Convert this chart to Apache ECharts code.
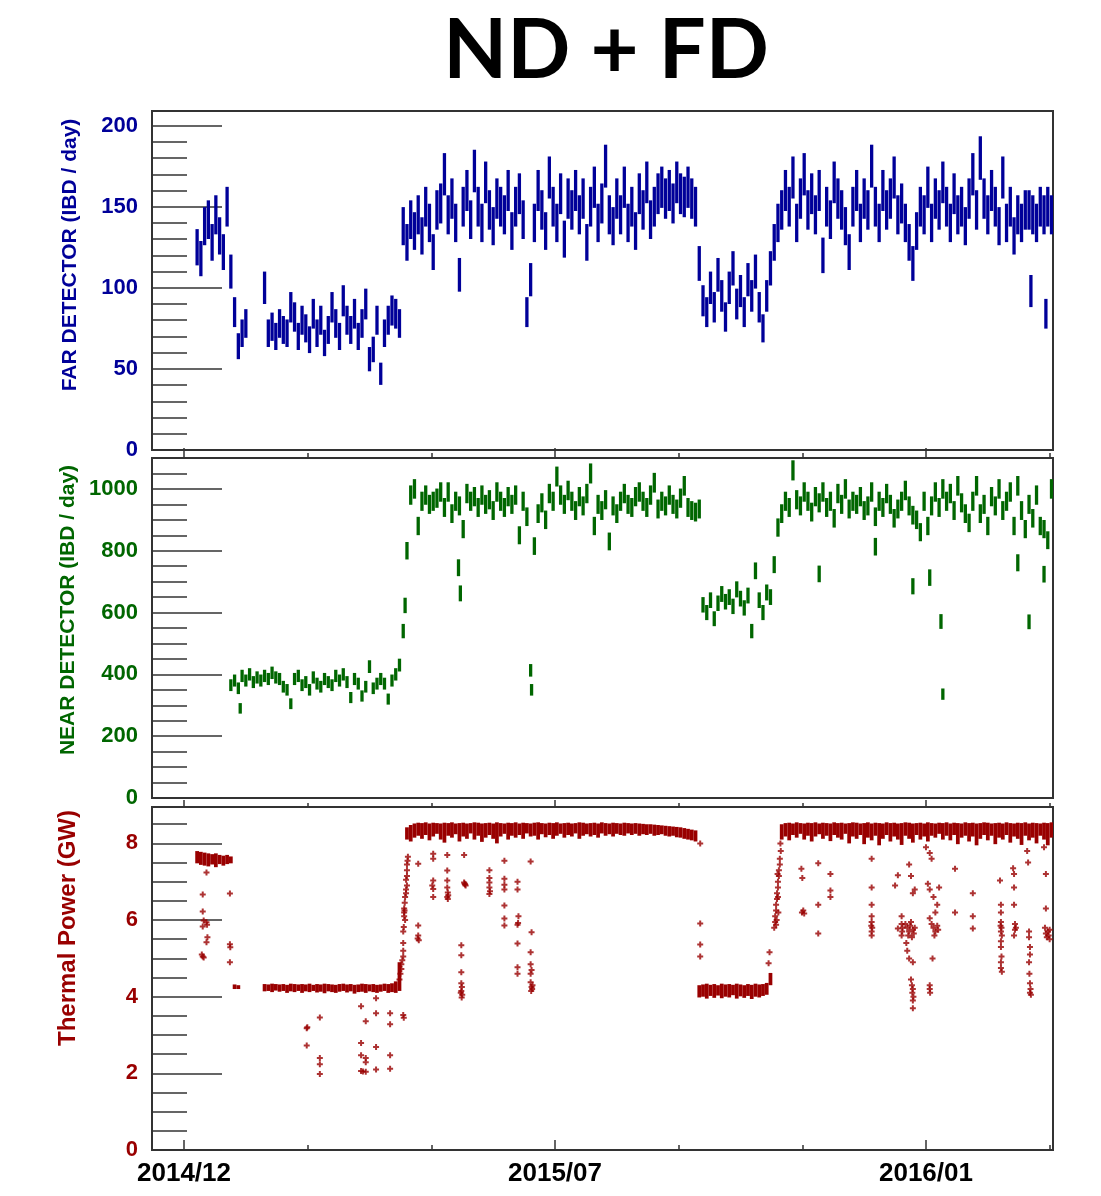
<!DOCTYPE html>
<html><head><meta charset="utf-8">
<script src="https://cdn.jsdelivr.net/npm/echarts@6/dist/echarts.min.js"></script>
<style>html,body{margin:0;padding:0;background:#fff}#chart{width:1101px;height:1196px}</style>
</head><body><div id="chart"></div>
<script>
// ---- axes (x in days counted from the 2014/12 tick) ----
const xTickDays = [0, 198, 396];
const xTickLabels = ['2014/12', '2015/07', '2016/01'];
const xMinorDays = [66, 132, 264, 330, 462];
const fdTicks = [0, 50, 100, 150, 200];
const fdMinor = [10,20,30,40,60,70,80,90,110,120,130,140,160,170,180,190];
const ndTicks = [0, 200, 400, 600, 800, 1000];
const ndMinor = [50,100,150,250,300,350,450,500,550,650,700,750,850,900,950,1050];
const thTicks = [0, 2, 4, 6, 8];
const thMinor = [0.5,1,1.5,2.5,3,3.5,4.5,5,5.5,6.5,7,7.5,8.5];

// ---- data: one sample every 2 days starting at day 7 ----
const firstDay = 7, dayStep = 2;

const fdValues = [
125,118,138,142,128,145,132,122,150,110,85,64,72,78,
null,null,null,null,
100,72,76,70,78,74,72,88,82,70,80,75,68,84,72,80,66,74,88,78,70,92,80,74,84,70,78,90,56,62,80,47,72,80,86,84,78,
138,128,142,135,145,132,150,140,122,148,
152,170,145,155,140,108,150,160,142,172,
150,140,165,148,138,155,150,145,160,135,
150,158,142,85,105,140,160,148,135,168,
150,140,158,130,155,148,160,145,155,128,
150,162,140,152,175,145,138,155,145,162,
140,150,135,158,148,165,142,150,158,162,
155,160,152,165,158,156,162,155,150,
115,92,85,100,88,108,95,82,100,112,
90,98,85,105,95,110,88,75,95,112,
128,140,148,160,150,168,140,155,170,148,
158,145,160,120,150,142,165,155,148,138,
122,150,160,140,155,148,175,150,140,160,
148,155,168,145,152,140,128,115,135,150,
145,162,140,155,148,165,150,140,158,145,
150,138,155,170,148,180,155,145,160,150,
138,168,140,150,132,145,140,148,148,145,
140,150,145,150,145
];
const fdOutliers = [[452, 98], [460, 84]];

const ndValues = [
null,null,null,null,null,null,null,null,null,
365,
380,355,395,380,400,375,390,380,395,385,
405,390,385,360,350,305,385,395,365,375,
350,390,370,360,385,375,365,395,380,400,
375,325,385,370,330,360,425,355,370,385,
370,320,380,400,430,
540,800,980,1000,880,960,980,950,960,970,
990,940,990,920,960,945,870,985,960,975,
940,980,950,965,930,990,960,940,975,950,
980,850,960,910,413,815,920,955,900,985,
960,1040,980,950,995,960,930,975,945,985,
1050,880,950,930,965,830,945,920,960,985,
950,940,975,990,960,940,980,1020,935,960,
945,980,950,935,970,1010,940,930,925,
935,625,600,640,580,630,660,635,650,620,
675,645,615,655,540,735,640,600,665,650,
755,875,920,960,940,1060,965,945,990,960,
925,975,955,990,940,960,905,985,950,1000,
935,960,950,975,930,945,990,910,960,940,
985,950,905,935,960,995,945,915,900,860,
960,880,945,990,940,1000,960,985,930,1010,
955,920,890,960,1010,920,950,880,975,945,
1000,930,960,990,880,1010,930,870,950,905,
980,880,870,834,1000
];
const ndOutliers = [[30,290],[118,623],[146.5,745],[147.5,662],[185.5,350],[339,725],[369,813],[389,685],[398,713],[404,571],[405,336],[445,761],[451,570],[459,724]];

const thermHigh = [
7.8,7.78,7.76,7.74,7.72,7.74,7.7,7.68,7.7,7.66,
4.32,4.3,
null,null,null,null,null,null,
4.33,4.32,4.34,4.33,4.32,4.33,4.31,4.34,4.33,4.32,4.33,4.32,4.34,4.31,4.33,4.32,4.34,4.33,4.32,4.31,
4.33,4.34,4.32,4.33,4.31,4.32,4.34,4.33,4.32,4.33,4.31,4.32,4.34,4.33,4.35,4.4,4.9,
null,
8.42,8.48,8.52,8.54,8.53,8.55,8.52,8.54,8.53,8.52,8.54,8.53,8.55,8.52,8.53,8.54,8.52,8.53,8.55,8.54,
8.52,8.53,8.54,8.52,8.55,8.53,8.52,8.54,8.53,8.55,8.52,8.54,8.53,8.52,8.54,8.55,8.53,8.52,8.54,8.53,
8.55,8.52,8.53,8.54,8.52,8.53,8.55,8.54,8.52,8.53,8.54,8.52,8.55,8.53,8.52,8.54,8.53,8.52,8.54,8.53,
8.52,8.53,8.52,8.51,8.5,8.5,8.49,8.48,8.47,8.46,8.45,8.44,8.43,8.42,8.4,8.38,8.36,8.34,
4.3,4.32,4.34,4.31,4.33,4.3,4.34,4.32,4.33,4.31,4.34,4.32,4.3,4.33,4.31,4.34,4.32,4.33,4.36,4.62,
null,null,
8.5,8.53,8.54,8.52,8.55,8.53,8.52,8.54,8.53,8.55,8.52,8.54,8.53,8.52,8.55,8.53,8.54,8.52,8.53,8.55,
8.54,8.52,8.53,8.55,8.52,8.54,8.53,8.52,8.55,8.53,8.54,8.52,8.53,8.55,8.54,8.52,8.53,8.54,8.52,8.55,
8.53,8.52,8.54,8.53,8.55,8.52,8.54,8.53,8.52,8.55,8.53,8.54,8.52,8.53,8.55,8.54,8.52,8.53,8.54,8.52,
8.55,8.53,8.52,8.54,8.53,8.55,8.52,8.54,8.53,8.52,8.54,8.53,8.55
];
const thermLow = [
7.48,7.44,7.42,7.4,7.45,7.38,7.46,7.42,7.46,7.48,
4.2,4.2,
null,null,null,null,null,null,
4.14,4.15,4.12,4.16,4.13,4.15,4.1,4.14,4.12,4.15,4.1,4.14,4.12,4.15,4.11,4.13,4.09,4.14,4.12,4.1,
4.13,4.15,4.11,4.14,4.08,4.12,4.13,4.1,4.14,4.12,4.1,4.13,4.15,4.1,4.12,4.1,4.15,
null,
8.1,8.05,8.15,8.2,8.12,8.22,8.08,8.18,8.25,8.1,8.02,8.2,8.15,8.24,8.05,8.18,8.12,8.26,8.1,8.2,
8.04,8.15,8.22,8.12,8.0,8.18,8.25,8.1,8.2,8.15,8.22,8.12,8.26,8.18,8.2,8.1,8.24,8.16,8.22,8.12,
8.2,8.25,8.15,8.22,8.18,8.26,8.12,8.2,8.24,8.18,8.22,8.15,8.26,8.2,8.24,8.18,8.25,8.22,8.2,8.26,
8.22,8.25,8.2,8.24,8.22,8.25,8.2,8.22,8.24,8.2,8.18,8.2,8.16,8.15,8.12,8.1,8.08,8.05,
3.98,4.0,3.95,4.02,3.97,4.03,3.96,4.0,3.98,4.04,3.95,4.01,3.97,4.02,3.94,4.0,3.98,4.02,4.05,4.3,
null,null,
8.1,8.18,8.08,8.22,8.15,8.25,8.1,8.2,8.05,8.18,8.24,8.12,8.2,8.06,8.22,8.15,8.1,8.25,8.0,8.18,
8.12,8.22,7.98,8.15,8.08,8.2,7.95,8.12,8.22,8.05,8.18,8.1,7.96,8.2,8.12,8.02,8.22,8.1,8.18,8.05,
8.2,8.15,8.25,8.1,8.2,8.08,8.22,7.98,8.15,8.2,8.05,8.18,7.95,8.12,8.22,8.08,8.2,7.98,8.15,8.1,
8.22,8.02,8.18,8.12,7.96,8.2,8.08,8.15,8.0,8.2,8.1,7.95,8.15
];

const thermDots = [
[10,6.67],[10,6.22],[10.5,5.99],[10,5.83],[9.5,5.1],[10,5.05],[10.5,5.02],[12,7.24],[12,5.94],[12.3,5.88],[12.5,5.55],[12,5.42],
[24.5,6.69],[24.5,5.37],[24.7,5.29],[24.5,4.9],
[65.5,3.18],[65.8,3.2],[65.5,2.73],[72.5,3.46],[72.5,2.4],[72.5,2.24],[72.5,1.98],
[94.5,3.75],[94.5,2.79],[94.5,2.47],[94.5,2.06],[97,3.36],[97,2.4],[97,2.29],[97,2.04],[95.5,2.05],
[102.5,3.96],[102.5,3.57],[102.5,2.69],[102.5,2.1],[110,3.57],[110,3.28],[110,2.47],[110,2.12],[117,3.52],[117.3,3.45],
[115,4.45],[115.5,4.6],[116,4.72],[116,4.85],[116.5,4.95],[117,5.05],[117,5.2],[117,5.4],[117,5.7],[117.3,5.82],
[117.5,6.1],[117.5,6.2],[117.5,6.3],[117.7,6.25],[118,6.0],[117.8,6.45],[118,6.6],[118.5,6.7],[118.5,6.8],[119,6.9],
[118.5,7.05],[119,7.15],[119,7.3],[119,7.45],[119.3,7.55],[119.5,7.65],
[125,7.47],[125,5.86],[125,5.6],[125.3,5.47],[124.7,5.52],
[133,7.73],[133,7.6],[133,7.03],[133,6.81],[133,6.6],[132.5,6.9],
[140.5,7.7],[140.5,7.29],[140.5,7.03],[140.5,6.85],[140.8,6.72],[140.5,6.6],[140.8,6.55],[141,6.65],
[148,5.34],[148,5.08],[148,4.64],[148,4.35],[148.3,4.25],[148,4.15],[148.5,4.05],[148.2,3.98],[147.7,4.1],
[149.5,7.7],[149.5,6.98],[150,6.93],[150.3,6.9],[149.8,6.95],
[163,7.3],[163,7.1],[163,6.98],[163,6.85],[163.3,6.75],[163,6.68],
[171,7.55],[171,7.08],[171,6.92],[171,6.8],[171,6.38],[171,6.04],[171,5.86],
[178,7.0],[178,6.8],[178.5,6.1],[178,5.88],[178.3,5.92],[178,5.39],[178,4.77],[178,4.6],
[185,7.53],[185.5,5.68],[185,5.16],[185,4.85],[185.5,4.7],[185,4.6],[185,4.38],[185.5,4.25],[185.3,4.15],[185.8,4.2],[186,4.3],
[275.5,8.0],[275.5,5.91],[275.5,5.36],[275.5,5.05],
[312,4.87],[312.5,5.16],
[315,5.8],[315.5,5.95],[315.5,6.1],[316,6.25],[316,6.4],[316.5,6.55],[316.5,6.7],[317,6.85],[317,7.0],[317.5,7.15],
[317.5,7.3],[318,7.45],[318,7.6],[316.3,6.0],[317.2,6.2],[316.8,7.2],[318.3,8.0],[318.5,7.8],[316,5.88],[317,6.6],
[329.5,7.34],[330,7.1],[330.5,6.25],[331,6.17],[329.8,6.2],
[338.5,7.48],[338.5,6.4],[338.5,5.65],
[345,7.2],[345,6.77],[345,6.6],
[367,7.6],[367,6.85],[367,6.4],[367,6.1],[367,5.95],[367.3,5.8],[367,5.7],[366.8,5.85],[367,5.6],
[379.5,6.9],[381,7.17],[381,5.78],[383,6.1],[383,5.9],[383.5,5.8],[383.3,5.7],[383,5.6],
[385,5.9],[386,5.8],[387,5.7],[388,5.95],[389,5.75],[386.5,5.6],[388.5,5.55],[387.5,5.85],[389.5,5.65],[390,5.8],
[385.5,5.4],[386,5.2],[387,5.0],[389,4.9],[388,4.45],[388.5,4.3],[389,4.2],[388.7,4.1],[389.3,4.0],[389,3.9],[389,3.7],
[387,7.45],[388,7.15],[390,6.8],[389,6.7],
[396,7.9],[398,7.75],[399,7.6],[397,6.95],[398,6.8],[400,6.6],[401,6.2],[398,6.05],[399,5.9],[400,5.8],
[401,5.7],[402,5.85],[400.5,5.6],[402.5,5.75],[399.5,5.0],[398,4.3],[398.2,4.1],[398,4.2],[402,6.4],[403,6.85],
[411.5,7.34],[411.5,6.2],
[421,6.7],[421,6.1],[421,5.78],
[435.5,7.03],[436,6.4],[436,6.2],[436,5.95],[436.3,5.8],[436,5.7],[436.5,5.6],[436,5.45],[436,5.3],[436.3,5.05],
[436,4.9],[436,4.75],[436.5,4.65],[435.8,5.85],
[442.5,7.35],[443,7.2],[443,6.85],[443,6.4],[443.5,5.9],[443.5,5.75],[443,5.6],[444,5.8],
[450,7.8],[450.5,7.5],[451,5.7],[451,5.55],[451.5,5.3],[451.5,5.1],[451,4.9],[451.5,4.35],[451.8,4.2],[451.5,4.1],[452,4.05],[451.2,4.6],
[459,7.9],[460,7.2],[460,6.3],[459.5,5.8],[460,5.65],[460.5,5.55],[461,5.7],[461.5,5.6],[462,5.75],[462,5.5]
];

// ---- styling ----
const BLUE = '#000099', GREEN = '#006600', RED = '#990000', TICK = '#333';
const FONT = '"Liberation Sans", Arial, sans-serif';
const xMin = -17.08, xMax = 463.79;

const toDay = i => firstDay + dayStep * i;
function pairs(vals) { const out = []; vals.forEach((v, i) => { if (v != null) out.push([toDay(i), v]); }); return out; }
const fdData = pairs(fdValues).concat(fdOutliers);
const ndData = pairs(ndValues).concat(ndOutliers);
const bandData = [];
thermHigh.forEach((h, i) => { if (h != null) bandData.push([toDay(i), thermLow[i], h]); });

// vertical statistical (sqrt N) error bar around each daily rate
function errBar(color, width) {
  return function (params, api) {
    const x = api.value(0), v = api.value(1);
    const e = Math.sqrt(v);
    const p1 = api.coord([x, v + e]), p2 = api.coord([x, v - e]);
    return { type: 'line', shape: { x1: p1[0], y1: p1[1], x2: p2[0], y2: p2[1] }, style: { stroke: color, lineWidth: width } };
  };
}
function bandItem(params, api) {
  const x = api.value(0), lo = api.value(1), hi = api.value(2);
  const a = api.coord([x - dayStep / 2, hi]), b = api.coord([x + dayStep / 2, lo]);
  return { type: 'rect', shape: { x: a[0], y: a[1], width: b[0] - a[0], height: b[1] - a[1] }, style: { fill: RED } };
}

function xAx(grid, extra) {
  return Object.assign({ type: 'value', gridIndex: grid, min: xMin, max: xMax,
    axisLine: { show: false, onZero: false }, splitLine: { show: false }, axisTick: { show: false }, axisLabel: { show: false } }, extra);
}
function tick(vals, len, inside) {
  return { show: true, inside: inside, length: len, customValues: vals, lineStyle: { color: TICK, width: 1.5 } };
}
function yAx(grid, max, vals, len, color, labels) {
  return { type: 'value', gridIndex: grid, min: 0, max: max, position: 'left',
    axisLine: { show: false, onZero: false }, splitLine: { show: false },
    axisTick: tick(vals, len, true),
    axisLabel: labels ? { show: true, customValues: vals, formatter: v => String(v), color: color, fontWeight: 'bold', fontSize: 22, fontFamily: FONT, margin: 14 } : { show: false } };
}

const chart = echarts.init(document.getElementById('chart'), null, { renderer: 'canvas' });
chart.setOption({
  animation: false,
  backgroundColor: '#fff',
  grid: [
    { left: 152, right: 48, top: 111, height: 339, show: true, borderColor: TICK, borderWidth: 2 },
    { left: 152, right: 48, top: 458, height: 340, show: true, borderColor: TICK, borderWidth: 2 },
    { left: 152, right: 48, top: 807, height: 343, show: true, borderColor: TICK, borderWidth: 2 }
  ],
  xAxis: [
    xAx(0, {}),
    xAx(1, { position: 'top', axisTick: tick(xTickDays, 10, false) }),
    xAx(1, { position: 'top', axisTick: tick(xMinorDays, 5, false) }),
    xAx(2, { position: 'bottom', axisTick: tick(xTickDays, 10, true),
      axisLabel: { show: true, customValues: xTickDays, formatter: v => xTickLabels[xTickDays.indexOf(v)],
        color: '#000', fontWeight: 'bold', fontSize: 26, fontFamily: FONT, margin: 11 } }),
    xAx(2, { position: 'bottom', axisTick: tick(xMinorDays, 5, true) }),
    xAx(2, { position: 'top', axisTick: tick(xTickDays, 7, false) }),
    xAx(2, { position: 'top', axisTick: tick(xMinorDays, 4, false) })
  ],
  yAxis: [
    yAx(0, 209, fdTicks, 70, BLUE, true),
    yAx(0, 209, fdMinor, 35, BLUE, false),
    yAx(1, 1100, ndTicks, 70, GREEN, true),
    yAx(1, 1100, ndMinor, 35, GREEN, false),
    yAx(2, 8.95, thTicks, 70, RED, true),
    yAx(2, 8.95, thMinor, 35, RED, false)
  ],
  graphic: [
    { type: 'text', x: 606, y: 51, style: { text: 'ND + FD', font: 'bold 83px Lato, "Open Sans", sans-serif', fill: '#000', align: 'center', verticalAlign: 'middle' } },
    { type: 'text', x: 70, y: 255, rotation: Math.PI / 2, style: { text: 'FAR DETECTOR (IBD / day)', font: 'bold 21px ' + FONT, fill: BLUE, align: 'center', verticalAlign: 'middle' } },
    { type: 'text', x: 68, y: 610, rotation: Math.PI / 2, style: { text: 'NEAR DETECTOR (IBD / day)', font: 'bold 21px ' + FONT, fill: GREEN, align: 'center', verticalAlign: 'middle' } },
    { type: 'text', x: 68, y: 928, rotation: Math.PI / 2, style: { text: 'Thermal Power (GW)', font: 'bold 24px ' + FONT, fill: RED, align: 'center', verticalAlign: 'middle' } }
  ],
  series: [
    { name: 'Far detector', type: 'custom', xAxisIndex: 0, yAxisIndex: 0, clip: true, renderItem: errBar(BLUE, 3.3), data: fdData },
    { name: 'Near detector', type: 'custom', xAxisIndex: 1, yAxisIndex: 2, clip: true, renderItem: errBar(GREEN, 3.3), data: ndData },
    { name: 'Thermal power', type: 'custom', xAxisIndex: 3, yAxisIndex: 4, clip: true, renderItem: bandItem, data: bandData },
    { name: 'Thermal power points', type: 'scatter', xAxisIndex: 3, yAxisIndex: 4,
      symbol: 'path://M2,0H4V2H6V4H4V6H2V4H0V2H2Z', symbolSize: 6, itemStyle: { color: RED }, data: thermDots }
  ]
});
</script></body></html>
